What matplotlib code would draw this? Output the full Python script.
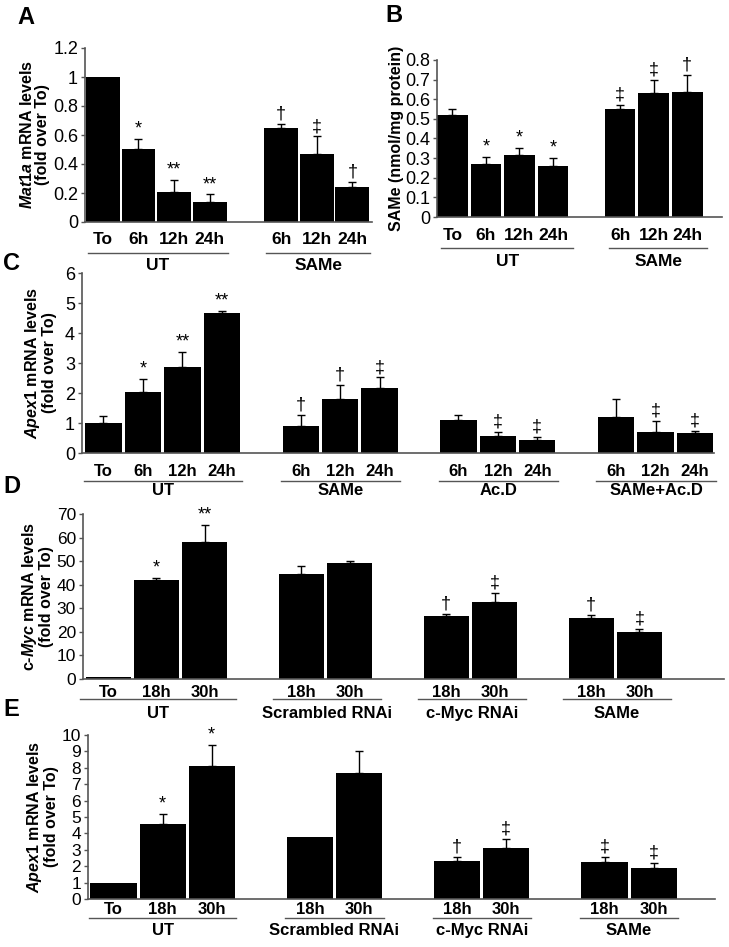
import matplotlib
matplotlib.use("Agg")
import matplotlib.pyplot as plt
import numpy as np
from matplotlib.transforms import blended_transform_factory

plt.rcParams['font.family'] = ['Liberation Sans', 'DejaVu Sans']
plt.rcParams['mathtext.fontset'] = 'custom'
plt.rcParams['mathtext.it'] = 'Liberation Sans:italic:bold'
plt.rcParams['mathtext.rm'] = 'Liberation Sans:bold'

W, H = 729, 947

# ---- data ----
# A: Mat1a mRNA
a_ticks = ['To', '6h', '12h', '24h', '6h', '12h', '24h']
a_vals = [1.0, 0.50, 0.21, 0.14, 0.65, 0.47, 0.24]
a_err = [0, 0.07, 0.08, 0.05, 0.025, 0.12, 0.035]
a_marks = ['', '*', '**', '**', '†', '‡', '†']
a_groups = ['UT', 'SAMe']
a_sizes = [4, 3]

# B: SAMe content
b_ticks = ['To', '6h', '12h', '24h', '6h', '12h', '24h']
b_vals = [0.52, 0.27, 0.315, 0.26, 0.55, 0.63, 0.635]
b_err = [0.03, 0.035, 0.035, 0.04, 0.02, 0.07, 0.09]
b_marks = ['', '*', '*', '*', '‡', '‡', '†']
b_groups = ['UT', 'SAMe']
b_sizes = [4, 3]

# C: Apex1 mRNA time course
c_ticks = ['To', '6h', '12h', '24h', '6h', '12h', '24h',
           '6h', '12h', '24h', '6h', '12h', '24h']
c_vals = [1.0, 2.04, 2.88, 4.67, 0.91, 1.80, 2.16,
          1.09, 0.56, 0.42, 1.19, 0.71, 0.66]
c_err = [0.24, 0.43, 0.48, 0.07, 0.37, 0.47, 0.36,
         0.19, 0.13, 0.12, 0.61, 0.35, 0.08]
c_marks = ['', '*', '**', '**', '†', '†', '‡', '', '‡', '‡', '', '‡', '‡']
c_groups = ['UT', 'SAMe', 'Ac.D', 'SAMe+Ac.D']
c_sizes = [4, 3, 3, 3]

# D: c-Myc mRNA
d_ticks = ['To', '18h', '30h', '18h', '30h', '18h', '30h', '18h', '30h']
d_vals = [1.0, 41.8, 58.0, 44.7, 49.1, 26.7, 32.7, 25.9, 19.9]
d_err = [0, 1.1, 7.2, 3.3, 1.0, 1.0, 3.9, 1.4, 1.5]
d_marks = ['', '*', '**', '', '', '†', '‡', '†', '‡']
d_groups = ['UT', 'Scrambled RNAi', 'c-Myc RNAi', 'SAMe']
d_sizes = [3, 2, 2, 2]

# E: Apex1 mRNA with c-Myc knockdown
e_ticks = ['To', '18h', '30h', '18h', '30h', '18h', '30h', '18h', '30h']
e_vals = [1.0, 4.6, 8.1, 3.8, 7.7, 2.3, 3.1, 2.25, 1.9]
e_err = [0, 0.6, 1.3, 0, 1.3, 0.28, 0.55, 0.32, 0.28]
e_marks = ['', '*', '*', '', '', '†', '‡', '‡', '‡']
e_groups = ['UT', 'Scrambled RNAi', 'c-Myc RNAi', 'SAMe']
e_sizes = [3, 2, 2, 2]

fig = plt.figure(figsize=(W / 100, H / 100), dpi=100)
GRAY = '#555555'


def positions(sizes):
    pos = []
    x = 0
    for n in sizes:
        pos += list(range(x, x + n))
        x += n + 1
    return pos


def panel(box, vals, err, marks, ticks, groups, sizes, ylim, ystep, ylabel,
          xlim, bw, offs, ext, lpad, ysize, xsize):
    l, t, r, b = box
    ax = fig.add_axes([l / W, 1 - b / H, (r - l) / W, (b - t) / H])
    hpx = b - t
    pos = positions(sizes)
    ax.bar(pos, vals, width=bw, color='black', zorder=2)
    for p, v, e, m in zip(pos, vals, err, marks):
        if e > 0:
            ax.errorbar([p], [v], yerr=[[0], [e]], fmt='none', ecolor='black',
                        elinewidth=1, capsize=3, capthick=1, zorder=3)
        if m:
            ax.annotate(m, (p, v + e), xytext=(0, 1), textcoords='offset points',
                        ha='center', va='bottom', fontsize=13)
    ax.set_xlim(*xlim)
    ax.set_ylim(*ylim)
    ax.set_yticks(np.arange(ylim[0], ylim[1] + ystep / 2, ystep))
    ax.yaxis.set_major_formatter(plt.FormatStrFormatter('%g'))
    ax.set_xticks([])
    for s in ['top', 'right']:
        ax.spines[s].set_visible(False)
    for s in ['left', 'bottom']:
        ax.spines[s].set_color(GRAY)
        ax.spines[s].set_linewidth(1.2)
    ax.tick_params(axis='y', direction='out', length=3, width=1, color=GRAY,
                   labelsize=ysize, pad=2)
    ax.set_ylabel(ylabel, fontsize=11.5, fontweight='bold', labelpad=lpad,
                  linespacing=1.0)
    tr = blended_transform_factory(ax.transData, ax.transAxes)
    tick_off, line_off, grp_off = offs
    for p, tl in zip(pos, ticks):
        ax.text(p, -tick_off / hpx, tl, transform=tr, ha='center', va='center',
                fontsize=xsize, fontweight='bold')
    i = 0
    for g, n in zip(groups, sizes):
        x0 = pos[i] - ext[0]
        x1 = pos[i + n - 1] + ext[1]
        ax.plot([x0, x1], [-line_off / hpx] * 2, transform=tr, color=GRAY,
                lw=1, clip_on=False)
        ax.text((x0 + x1) / 2, -grp_off / hpx, g, transform=tr, ha='center',
                va='center', fontsize=xsize, fontweight='bold')
        i += n
    return ax


panel((85, 48, 372, 222), a_vals, a_err, a_marks, a_ticks, a_groups, a_sizes,
      (0, 1.2), 0.2, '$\\mathit{Mat1a}$ mRNA levels\n(fold over To)',
      (-0.5, 7.55), 0.95, (18, 31, 44), (0.42, 0.5), 2, 13, 12.5)
panel((437, 60, 722, 217), b_vals, b_err, b_marks, b_ticks, b_groups, b_sizes,
      (0, 0.8), 0.1, 'SAMe (nmol/mg protein)',
      (-0.46, 8.04), 0.92, (19, 31, 44), (0.33, 0.6), 1, 13, 12.5)
panel((82, 273, 714, 453), c_vals, c_err, c_marks, c_ticks, c_groups, c_sizes,
      (0, 6), 1, '$\\mathit{Apex1}$ mRNA levels\n(fold over To)',
      (-0.545, 15.48), 0.92, (18, 28, 37), (0.5, 0.52), 6, 13, 12)
panel((83, 514, 724, 679), d_vals, d_err, d_marks, d_ticks, d_groups, d_sizes,
      (0, 70), 10, 'c-$\\mathit{Myc}$ mRNA levels\n(fold over To)',
      (-0.52, 12.75), 0.93, (13, 20, 34), (0.58, 0.65), 2, 12.5, 12)
panel((88, 735, 715, 899), e_vals, e_err, e_marks, e_ticks, e_groups, e_sizes,
      (0, 10), 1, '$\\mathit{Apex1}$ mRNA levels\n(fold over To)',
      (-0.52, 12.25), 0.94, (10, 19, 31), (0.5, 0.5), 2, 12.5, 12)

for letter, x, y in [('A', 17, 18), ('B', 385, 16), ('C', 3, 264),
                     ('D', 3, 486), ('E', 3, 709)]:
    fig.text(x / W, 1 - y / H, letter, fontsize=17, fontweight='bold',
             ha='left', va='center')

fig.savefig('out.png', dpi=100)
